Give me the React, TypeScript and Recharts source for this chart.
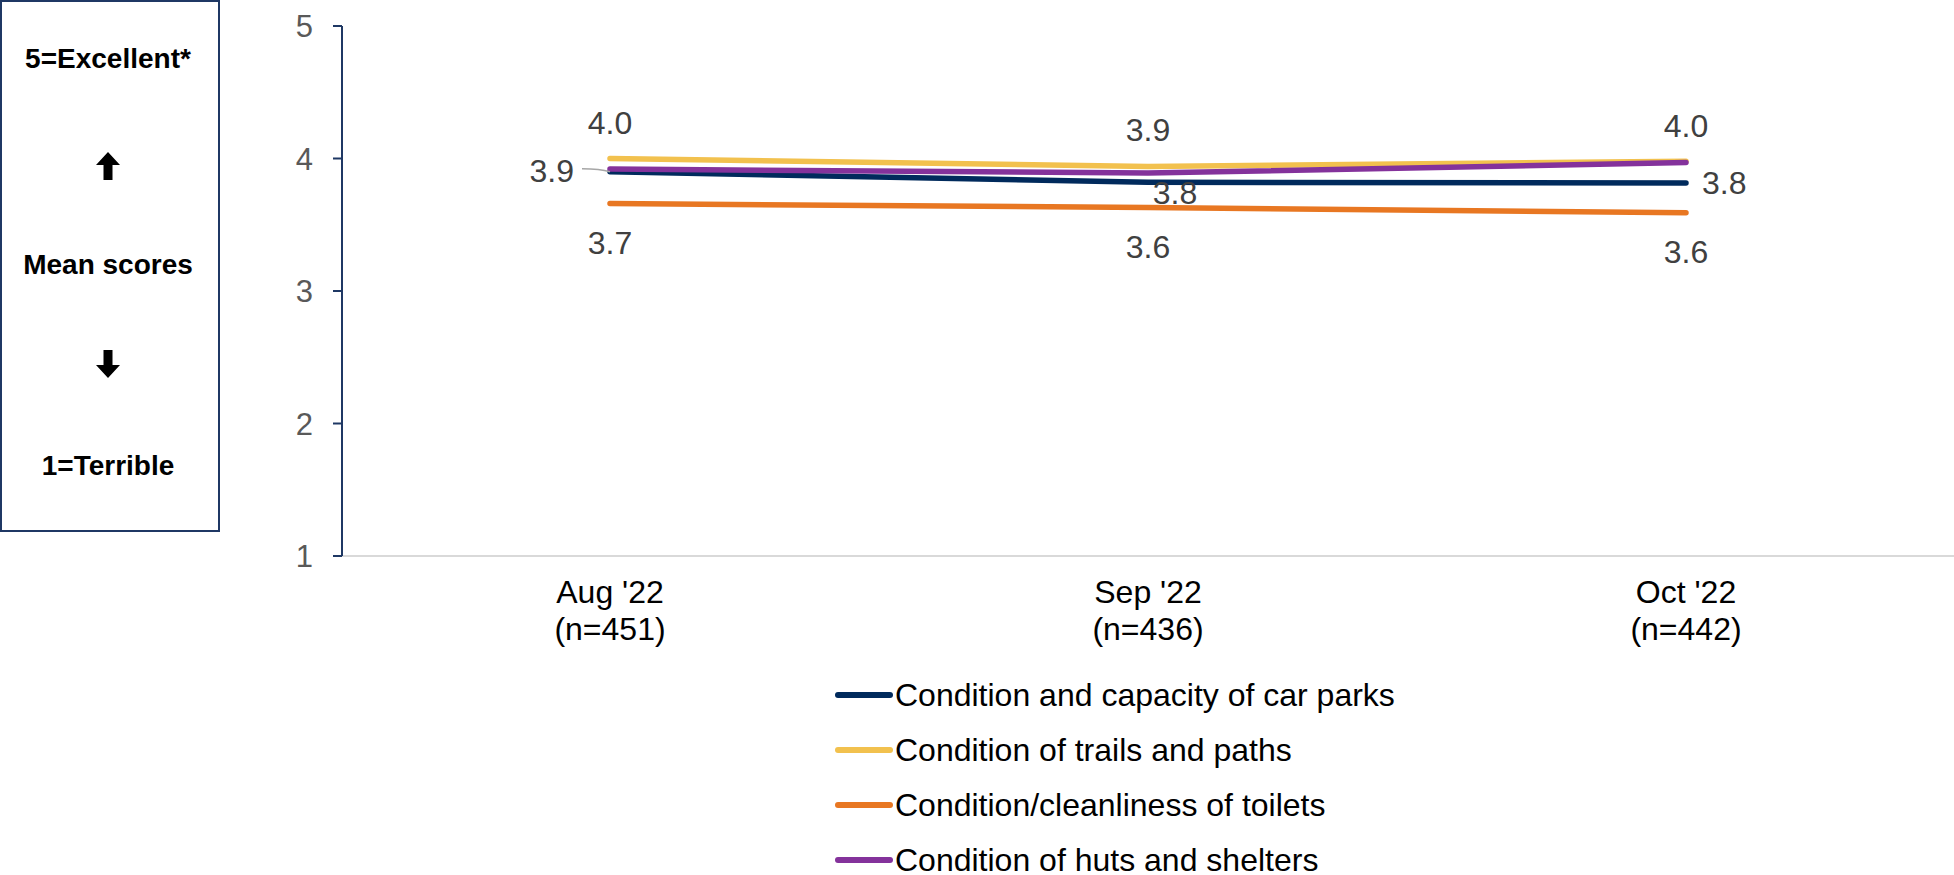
import React from 'react';
import { LineChart, Line, XAxis, YAxis, LabelList } from 'recharts';

const months = ["Aug '22", "Sep '22", "Oct '22"];
const sampleSizes = ['(n=451)', '(n=436)', '(n=442)'];

const carParks = [3.9, 3.82, 3.815];
const trails = [4.0, 3.94, 3.98];
const toilets = [3.66, 3.63, 3.59];
const huts = [3.92, 3.89, 3.97];

const yTicks = [1, 2, 3, 4, 5];

const data = months.map((month, i) => ({
  month,
  carParks: carParks[i],
  trails: trails[i],
  toilets: toilets[i],
  huts: huts[i],
}));

type Placement = 'top' | 'bottom' | 'leftLeader' | 'rightBelow' | 'right' | null;

const series = [
  {
    key: 'carParks',
    name: 'Condition and capacity of car parks',
    color: '#002a5c',
    labels: ['leftLeader', 'rightBelow', 'right'] as Placement[],
  },
  {
    key: 'trails',
    name: 'Condition of trails and paths',
    color: '#f2c14e',
    labels: ['top', 'top', null] as Placement[],
  },
  {
    key: 'toilets',
    name: 'Condition/cleanliness of toilets',
    color: '#e87722',
    labels: ['bottom', 'bottom', 'bottom'] as Placement[],
  },
  {
    key: 'huts',
    name: 'Condition of huts and shelters',
    color: '#84329b',
    labels: [null, null, 'top'] as Placement[],
  },
];

const FONT = '"Liberation Sans", Arial, sans-serif';
const LABEL_COLOR = '#404040';

function makeLabel(placements: Placement[]) {
  return (props: any) => {
    const { x, y, value, index } = props;
    const p = placements[index];
    if (!p || value == null) return null;
    const text = Number(value).toFixed(1);
    const common = {
      fontFamily: FONT,
      fontSize: 32,
      fill: LABEL_COLOR,
      dominantBaseline: 'central' as const,
    };
    if (p === 'top') {
      return <text {...common} x={x} y={y - 36} textAnchor="middle">{text}</text>;
    }
    if (p === 'bottom') {
      return <text {...common} x={x} y={y + 39} textAnchor="middle">{text}</text>;
    }
    if (p === 'rightBelow') {
      return <text {...common} x={x + 27} y={y + 11} textAnchor="middle">{text}</text>;
    }
    if (p === 'right') {
      return <text {...common} x={x + 16} y={y} textAnchor="start">{text}</text>;
    }
    // left label with a small leader line
    return (
      <g>
        <path
          d={`M${x - 28},${y - 3} Q${x - 10},${y - 3} ${x},${y}`}
          stroke="#a6a6a6"
          strokeWidth={1.5}
          fill="none"
        />
        <text {...common} x={x - 36} y={y - 1} textAnchor="end">{text}</text>
      </g>
    );
  };
}

function MonthTick(props: any) {
  const { x, y, payload, index } = props;
  return (
    <text
      x={x}
      textAnchor="middle"
      fontFamily={FONT}
      fontSize={32}
      fill="#000"
      dominantBaseline="central"
    >
      <tspan x={x} y={y + 28}>{payload.value}</tspan>
      <tspan x={x} y={y + 65}>{sampleSizes[index]}</tspan>
    </text>
  );
}

function ArrowIcon({ dir }: { dir: 'up' | 'down' }) {
  const d =
    dir === 'up'
      ? 'M12,0 L24,13 L16.5,13 L16.5,28 L7.5,28 L7.5,13 L0,13 Z'
      : 'M12,28 L24,15 L16.5,15 L16.5,0 L7.5,0 L7.5,15 L0,15 Z';
  return (
    <svg width={24} height={28} style={{ display: 'block' }}>
      <path d={d} fill="#000" />
    </svg>
  );
}

function ScaleBox() {
  const row = (top: number, content: React.ReactNode) => (
    <div
      style={{
        position: 'absolute',
        left: 0,
        width: 212,
        top,
        display: 'flex',
        justifyContent: 'center',
        alignItems: 'center',
        height: 0,
      }}
    >
      {content}
    </div>
  );
  const textStyle: React.CSSProperties = {
    fontFamily: FONT,
    fontWeight: 'bold',
    fontSize: 28,
    color: '#000',
    whiteSpace: 'nowrap',
  };
  return (
    <div
      style={{
        position: 'absolute',
        left: 0,
        top: 0,
        width: 216,
        height: 528,
        border: '2px solid #1f3864',
      }}
    >
      {row(57, <span style={textStyle}>5=Excellent*</span>)}
      {row(164, <ArrowIcon dir="up" />)}
      {row(263, <span style={textStyle}>Mean scores</span>)}
      {row(362, <ArrowIcon dir="down" />)}
      {row(464, <span style={textStyle}>1=Terrible</span>)}
    </div>
  );
}

function LegendBlock() {
  return (
    <div style={{ position: 'absolute', left: 835, top: 0 }}>
      {series.map((s, i) => (
        <div
          key={s.key}
          style={{
            position: 'absolute',
            left: 0,
            top: 695 + i * 55,
            height: 0,
            display: 'flex',
            alignItems: 'center',
            whiteSpace: 'nowrap',
          }}
        >
          <svg width={58} height={10} style={{ display: 'block' }}>
            <line x1={3} y1={5} x2={55} y2={5} stroke={s.color} strokeWidth={6} strokeLinecap="round" />
          </svg>
          <span style={{ fontFamily: FONT, fontSize: 32, color: '#000', marginLeft: 2 }}>{s.name}</span>
        </div>
      ))}
    </div>
  );
}

export default function App() {
  return (
    <div style={{ position: 'absolute', left: 0, top: 0, width: 1954, height: 875, background: '#fff' }}>
      <LineChart
        width={1954}
        height={875}
        data={data}
        margin={{ top: 26, right: 0, left: 0, bottom: 219 }}
      >
        <XAxis
          dataKey="month"
          padding={{ left: 268, right: 268 }}
          axisLine={{ stroke: '#d9d9d9', strokeWidth: 2 }}
          tickLine={false}
          tick={<MonthTick />}
          height={100}
          interval={0}
        />
        <YAxis
          domain={[1, 5]}
          ticks={yTicks}
          width={342}
          axisLine={{ stroke: '#1f3864', strokeWidth: 2 }}
          tickLine={{ stroke: '#1f3864', strokeWidth: 2 }}
          tickSize={9}
          tickMargin={20}
          tick={{ fontSize: 31, fill: '#595959', fontFamily: FONT }}
        />
        {series.map((s) => (
          <Line
            key={s.key}
            dataKey={s.key}
            name={s.name}
            type="linear"
            stroke={s.color}
            strokeWidth={5.5}
            strokeLinecap="round"
            dot={false}
            activeDot={false}
            isAnimationActive={false}
          >
            <LabelList dataKey={s.key} content={makeLabel(s.labels)} />
          </Line>
        ))}
      </LineChart>
      <ScaleBox />
      <LegendBlock />
    </div>
  );
}
